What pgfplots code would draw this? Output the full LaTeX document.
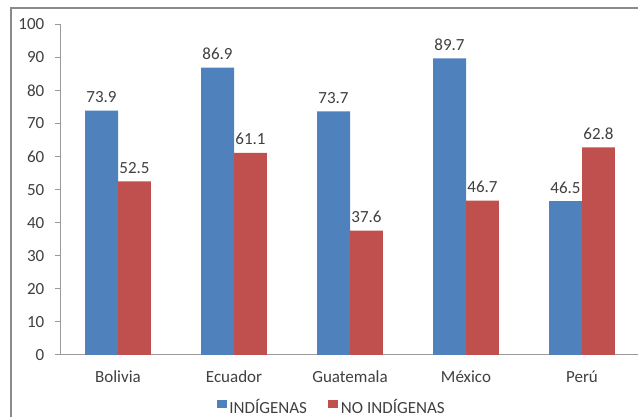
\documentclass[border=0pt]{standalone}
\usepackage{pgfplots}
\pgfplotsset{compat=1.18}
\usepackage{fontspec}
\setmainfont{Carlito}
\definecolor{indig}{HTML}{4F81BD}
\definecolor{noindig}{HTML}{C0504D}
\definecolor{txt}{HTML}{404040}
\definecolor{frame}{HTML}{8A8A8A}
\definecolor{axisgray}{HTML}{9A9A9A}
\begin{document}
\begin{tikzpicture}
\useasboundingbox (0,0) rectangle (478.5pt,312.75pt);
\fill[white] (0,0) rectangle (478.5pt,312.75pt);
% outer chart frame
\draw[frame, line width=0.8pt] (8.25pt,-2pt) -- (8.25pt,306.75pt) -- (482pt,306.75pt);
\begin{axis}[
  at={(45pt,46.5pt)}, anchor=south west,
  scale only axis, width=435pt, height=248pt,
  xmin=-0.5, xmax=4.5, ymin=0, ymax=100,
  axis x line*=bottom, axis y line*=left,
  axis line style={axisgray, line width=0.75pt},
  ytick={0,10,...,100},
  xtick={0,...,4},
  xticklabels={Bolivia,Ecuador,Guatemala,México,Perú},
  major x tick style={draw=none},
  extra x ticks={-0.5,0.5,1.5,2.5,3.5,4.5},
  extra x tick labels={},
  extra x tick style={major tick length=4.5pt, tick align=outside, tick style={axisgray, line width=0.75pt}},
  y tick style={axisgray, line width=0.75pt},
  tick align=outside,
  major tick length=3.75pt,
  /pgf/number format/assume math mode=true,
  ticklabel style={font=\fontsize{12.75}{15}\selectfont, text=txt},
  yticklabel style={xshift=-4.5pt},
  xticklabel style={anchor=base, yshift=-17pt},
  ybar,
  bar width=0.284,
  nodes near coords={\pgfmathprintnumber[fixed,fixed zerofill,precision=1,assume math mode=true]{\pgfplotspointmeta}},
  every node near coord/.append style={font=\fontsize{12.75}{15}\selectfont, text=txt, anchor=base, yshift=6pt},
  legend columns=2,
  legend style={draw=none, fill=none, at={(rel axis cs:0.469,-0.157)}, anchor=center,
    font=\fontsize{12.75}{15}\selectfont, text=txt,
    /tikz/every even column/.append style={column sep=14pt}},
]
\addplot[fill=indig, draw=none, bar shift=-0.142,
  legend image code/.code={\fill[indig] (0pt,-1pt) rectangle (7.5pt,5.5pt);}]
  coordinates {(0,73.9) (1,86.9) (2,73.7) (3,89.7) (4,46.5)};
\addplot[fill=noindig, draw=none, bar shift=0.142,
  legend image code/.code={\fill[noindig] (0pt,-1pt) rectangle (7.5pt,5.5pt);}]
  coordinates {(0,52.5) (1,61.1) (2,37.6) (3,46.7) (4,62.8)};
\legend{INDÍGENAS, NO INDÍGENAS}
\end{axis}
\end{tikzpicture}
\end{document}
